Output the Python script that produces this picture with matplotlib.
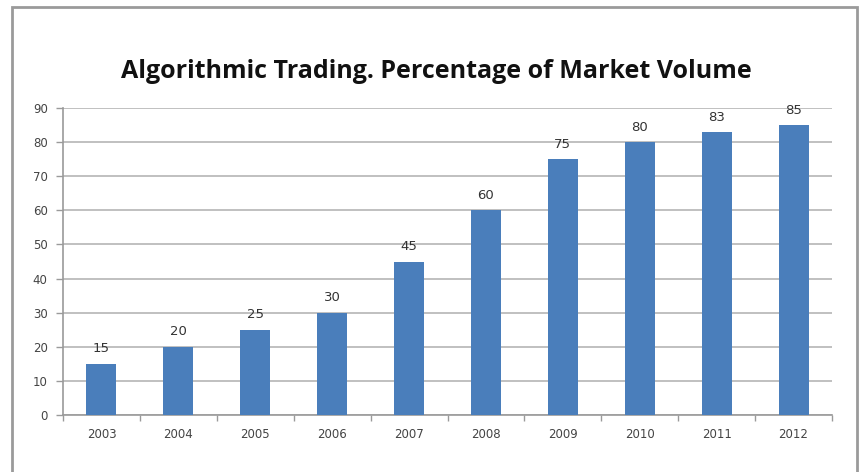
import matplotlib
matplotlib.use("Agg")
import matplotlib.pyplot as plt
from matplotlib.patches import Rectangle

# Algorithmic trading share of market volume, by year
years = ["2003", "2004", "2005", "2006", "2007", "2008", "2009", "2010", "2011", "2012"]
pct = [15, 20, 25, 30, 45, 60, 75, 80, 83, 85]
yticks = [0, 10, 20, 30, 40, 50, 60, 70, 80, 90]

W, H = 861, 472
fig = plt.figure(figsize=(W / 100, H / 100), dpi=100)
fig.patch.set_facecolor("white")

# outer grey frame (open at the bottom edge)
fig.add_artist(Rectangle((12 / W, -0.05), (857 - 12) / W, 1.05 - 7 / H,
                         transform=fig.transFigure, fill=False,
                         edgecolor="#9a9a9a", linewidth=2))

ax = fig.add_axes([63 / W, 1 - 415 / H, (832 - 63) / W, (415 - 108) / H])
x = list(range(len(years)))
bars = ax.bar(x, pct, width=0.39, color="#4a7ebb", zorder=3)

ax.set_xlim(-0.5, len(years) - 0.5)
ax.set_ylim(0, 90)
ax.set_yticks(yticks)
ax.set_yticklabels([str(v) for v in yticks])
ax.yaxis.grid(True, color="#b5b5b5", linewidth=1.2, zorder=0)

# category labels under bars, tick marks between categories
ax.set_xticks(x)
ax.set_xticklabels(years)
ax.tick_params(axis="x", length=0, pad=9, labelsize=8.5, labelcolor="#444444")
ax.set_xticks([i - 0.5 for i in range(len(years) + 1)], minor=True)
ax.tick_params(axis="x", which="minor", length=4, color="#9a9a9a", width=1)
ax.tick_params(axis="y", length=5, color="#9a9a9a", width=1, pad=6,
               labelsize=8.5, labelcolor="#444444")

for s in ["top", "right"]:
    ax.spines[s].set_visible(False)
ax.spines["left"].set_color("#9a9a9a")
ax.spines["bottom"].set_color("#9a9a9a")
ax.spines["left"].set_linewidth(1.2)
ax.spines["bottom"].set_linewidth(1.2)

for b, v in zip(bars, pct):
    ax.annotate(str(v), (b.get_x() + b.get_width() / 2, v),
                xytext=(0, 6), textcoords="offset points",
                ha="center", va="bottom", fontsize=9.5, color="#333333")

fig.text(436 / W, 1 - 72 / H, "Algorithmic Trading. Percentage of Market Volume",
         ha="center", va="center", fontsize=18, fontweight="bold",
         family=["Open Sans", "DejaVu Sans"], color="#111111")

fig.savefig("out.png", dpi=100)
